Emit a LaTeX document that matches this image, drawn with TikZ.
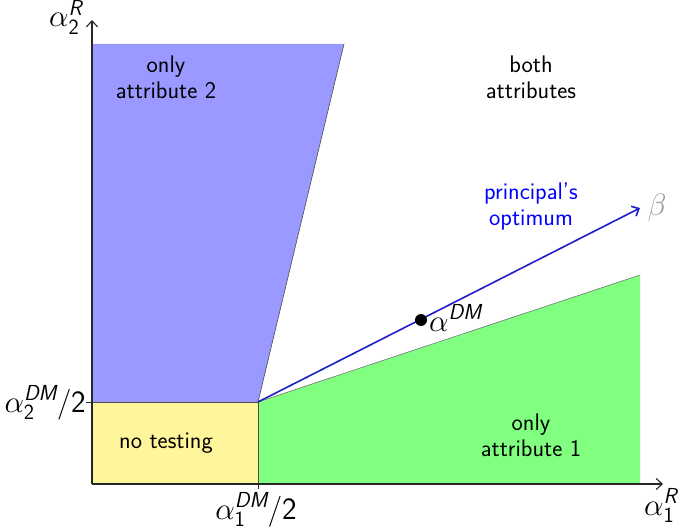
\documentclass[tikz,border=0pt]{standalone}
\usepackage{fix-cm}
\usepackage{amsmath}
\usepackage{fontspec}
\usetikzlibrary{arrows.meta}
\definecolor{regblue}{RGB}{153,153,255}
\definecolor{regyellow}{RGB}{255,245,155}
\definecolor{reggreen}{RGB}{128,255,128}
\definecolor{optblue}{RGB}{30,30,200}
\newcommand{\sfi}[1]{\textsf{\itshape #1}}
\newcommand{\sfu}[1]{\textsf{#1}}
\tikzset{
  region/.style={draw=black!70, line width=0.6pt},
  axis/.style={draw=black!85, line width=1.1pt, -{Straight Barb[length=6pt,width=11pt]}},
  lbl/.style={font=\fontsize{24}{26}\selectfont\sffamily, align=center, text=black},
  mlbl/.style={font=\fontsize{31}{36}\selectfont, inner sep=1pt},
  optarrow/.style={draw=optblue, line width=1.6pt, -{Straight Barb[length=6pt,width=11pt]}},
}
\begin{document}
\begin{tikzpicture}[x=1pt,y=-1pt]
\useasboundingbox (0,0) rectangle (680,529);
% coordinates
\coordinate (O) at (92,484);
\coordinate (K) at (258,402);
\coordinate (Ky) at (92,402);
\coordinate (Kx) at (258,484);
\coordinate (Btop) at (344,44);
\coordinate (Ytop) at (92,44);
\coordinate (Gr) at (640,275);
\coordinate (Gb) at (640,484);
\coordinate (Xend) at (663,484);
\coordinate (Yend) at (92,20);
\coordinate (Bend) at (640,208);
% regions
\fill[regblue] (Ky) -- (Ytop) -- (Btop) -- (K) -- cycle;
\fill[regyellow] (O) -- (Ky) -- (K) -- (Kx) -- cycle;
\fill[reggreen] (Kx) -- (K) -- (Gr) -- (Gb) -- cycle;
\draw[region] (Ky) -- (K) -- (Kx);
\draw[region] (K) -- (Btop);
\draw[region, draw=black!55] (K) -- (Gr);
% axes
\draw[axis] (O) -- (Xend);
\draw[axis] (O) -- (Yend);
\draw[line width=1pt, black!85] (Kx) -- ++(0,5);
\draw[line width=1pt, black!85] (Ky) -- ++(-6,0);
% optimum arrow
\draw[optarrow] (K) -- (Bend);
\node[circle, fill=black, inner sep=0pt, minimum size=12pt] (dot) at (421,320) {};
% labels
\node[mlbl, anchor=base west] (adm) at (428,331) {$\alpha^{\sfi{DM}}$};
\node[mlbl, text=black!40] (beta) at (657,208) {$\beta$};
\node[mlbl, anchor=base] (a1dm) at (256,519) {$\alpha_{\sfu{1}}^{\sfi{DM}}/\sfu{2}$};
\node[mlbl, anchor=base east] (a2dm) at (87,412) {$\alpha_{\sfu{2}}^{\sfi{DM}}/\sfu{2}$};
\node[mlbl, anchor=base west] (a1r) at (643,515) {$\alpha_{\sfu{1}}^{\sfi{R}}$};
\node[mlbl, anchor=base west] (a2r) at (48,27) {$\alpha_{\sfu{2}}^{\sfi{R}}$};
\node[lbl] (r2) at (166,77) {only\\attribute 2};
\node[lbl] (both) at (531,77) {both\\attributes};
\node[lbl, text=blue] (opt) at (531,207) {principal's\\optimum};
\node[lbl] (none) at (166,443) {no testing};
\node[lbl] (r1) at (531,435) {only\\attribute 1};
\end{tikzpicture}
\end{document}
